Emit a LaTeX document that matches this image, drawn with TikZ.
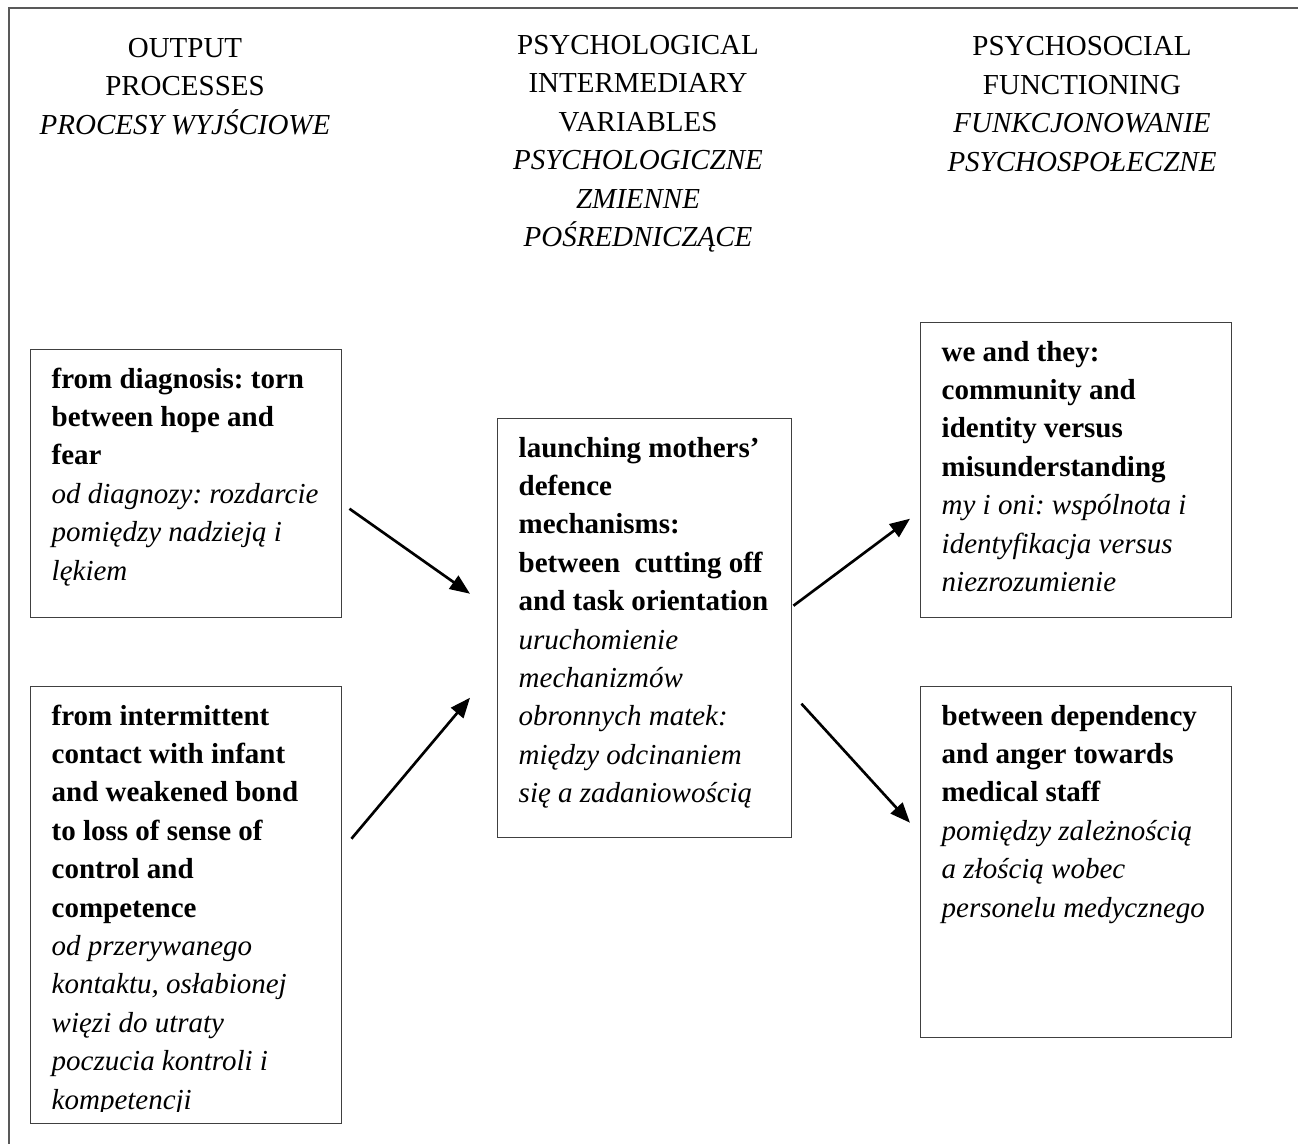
\documentclass[tikz,border=0pt]{standalone}
\usepackage{fontspec}
\setmainfont{Liberation Serif}
\usetikzlibrary{arrows.meta,calc}
\frenchspacing

\newlength{\px}
\setlength{\px}{0.414pt}

\newcommand{\boxbody}[3]{%
  \parbox[c][#2][t]{#1}{\leftskip=21\px\rightskip=0pt plus 1fil\parindent=0pt
    \rule{0pt}{38.4\px}#3}}

\begin{document}
\begin{tikzpicture}[x=0.414pt,y=-0.414pt]
  \tikzset{framebox/.style={draw=black!75,line width=0.6pt,inner sep=0pt,anchor=north west,font=\fontsize{12pt}{15.9pt}\selectfont}}
  \tikzset{headtext/.style={inner sep=0pt,anchor=north,align=center,font=\fontsize{12pt}{15.9pt}\selectfont}}
  \tikzset{flowarrow/.style={draw=black,line width=1.1pt,-{Triangle[length=8.3pt,width=6.6pt]}}}

  \useasboundingbox (0,0) rectangle (1298,1144);
  \draw[black!65,line width=0.5pt] (9,1144) -- (9,8) -- (1298,8);

  \node[headtext] (headout)  at (185,30.4) {\rule{0pt}{11pt}OUTPUT\\PROCESSES\\\textit{PROCESY WYJŚCIOWE}};
  \node[headtext] (headmid)  at (638,27.4) {\rule{0pt}{11pt}PSYCHOLOGICAL\\INTERMEDIARY\\VARIABLES\\\textit{PSYCHOLOGICZNE}\\\textit{ZMIENNE}\\\textit{POŚREDNICZĄCE}};
  \node[headtext] (headfunc) at (1082,28.9) {\rule{0pt}{11pt}PSYCHOSOCIAL\\FUNCTIONING\\\textit{FUNKCJONOWANIE}\\\textit{PSYCHOSPOŁECZNE}};

  \node[framebox] (diag) at (30,349) {\boxbody{311\px}{268\px}{\bfseries from diagnosis: torn\\
    between hope and\\ fear\\ \mdseries\itshape od diagnozy: rozdarcie\\ pomiędzy nadzieją i\\ lękiem}};
  \node[framebox] (contact) at (30,686) {\boxbody{311\px}{437\px}{\bfseries from intermittent\\
    contact with infant\\ and weakened bond\\ to loss of sense of\\ control and\\ competence\\
    \mdseries\itshape od przerywanego\\ kontaktu, osłabionej\\ więzi do utraty\\ poczucia kontroli i\\ kompetencji}};
  \fill[white] ($(contact.south west)+(2,-12)$) rectangle ($(contact.south east)+(-2,-2)$);
  \node[framebox] (defence) at (497,418) {\boxbody{294\px}{419\px}{\bfseries launching mothers’\\
    defence\\ mechanisms:\\ between~ cutting off\\ and task orientation\\
    \mdseries\itshape uruchomienie\\ mechanizmów\\ obronnych matek:\\ między odcinaniem\\ się a zadaniowością}};
  \node[framebox] (community) at (920,322) {\boxbody{311\px}{295\px}{\bfseries we and they:\\
    community and\\ identity versus\\ misunderstanding\\
    \mdseries\itshape my i oni: wspólnota i\\ identyfikacja versus\\ niezrozumienie}};
  \node[framebox] (anger) at (920,686) {\boxbody{311\px}{351\px}{\bfseries between dependency\\
    and anger towards\\ medical staff\\
    \mdseries\itshape pomiędzy zależnością\\ a złością wobec\\ personelu medycznego}};

  \draw[flowarrow] ($(diag.east)+(7,25)$) -- ($(defence.west)+(-27,-34.5)$);
  \draw[flowarrow] ($(contact.east)+(9,-66.5)$) -- ($(defence.west)+(-27,69.5)$);
  \draw[flowarrow] ($(defence.east)+(1,-22.5)$) -- ($(community.west)+(-10,48.5)$);
  \draw[flowarrow] ($(defence.east)+(9,75.5)$) -- ($(anger.west)+(-10,-39.5)$);
\end{tikzpicture}
\end{document}
